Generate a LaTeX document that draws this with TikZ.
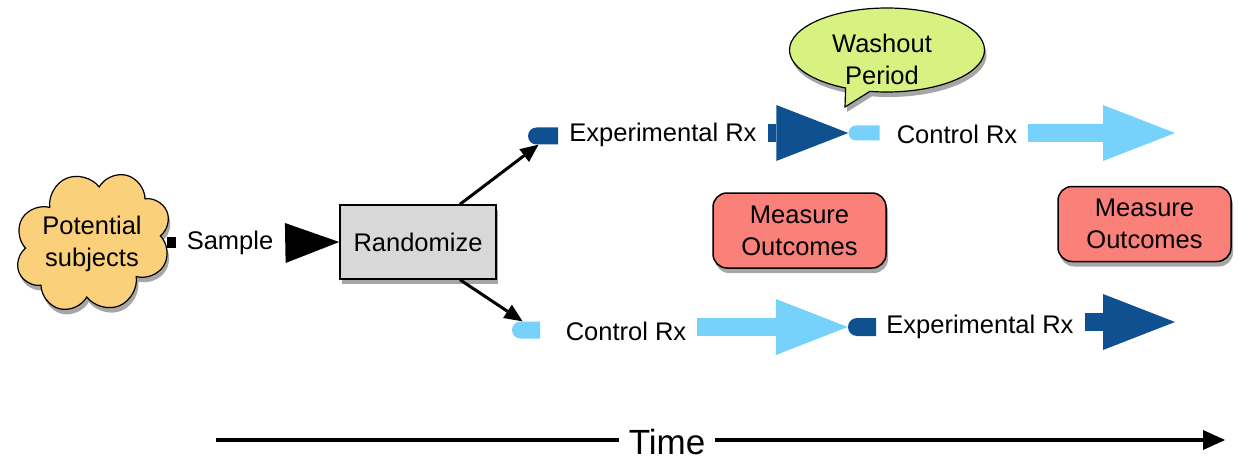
\documentclass[tikz,border=0pt]{standalone}
\usepackage{fontspec}
\setmainfont{Liberation Sans}
\usetikzlibrary{arrows.meta,shapes.symbols,shapes.callouts,shapes.misc,shadows,calc}

\definecolor{cloudfill}{RGB}{250,208,122}
\definecolor{boxgray}{RGB}{216,216,216}
\definecolor{measurefill}{RGB}{250,128,122}
\definecolor{bubblefill}{RGB}{216,242,130}
\definecolor{rxdark}{RGB}{15,80,145}
\definecolor{rxlight}{RGB}{118,210,250}

\tikzset{
  base/.style={font=\fontsize{25.5}{32}\selectfont, align=center},
  softshadow/.style={drop shadow={shadow xshift=2pt, shadow yshift=-5pt, opacity=0.35, fill=black}},
  cloudnode/.style={base, cloud, cloud puffs=8, cloud puff arc=150, cloud ignores aspect,
    minimum width=160pt, minimum height=138pt, draw=black, line width=1.2pt,
    fill=cloudfill, softshadow},
  randbox/.style={base, draw, line width=1.5pt, fill=boxgray,
    minimum width=156pt, minimum height=74pt, softshadow},
  measurebox/.style={base, draw, line width=1.5pt, fill=measurefill, rounded corners=14pt,
    minimum width=173pt, minimum height=75pt, softshadow},
  bubble/.style={ellipse callout, draw, line width=1.2pt, fill=bubblefill,
    minimum width=195pt, minimum height=84pt, softshadow},
  rxlabel/.style={base, inner xsep=11pt, inner ysep=2pt},
  tabshape/.style={rounded rectangle, rounded rectangle right arc=none, inner sep=0pt},
  tabdark/.style={tabshape, fill=rxdark, minimum width=30pt, minimum height=17pt},
  tablight/.style={tabshape, fill=rxlight, minimum width=31pt, minimum height=15pt},
  fatarrow/.style={line width=18pt,
    -{Triangle[length=72pt 0 0, width=56pt 0 0, line width=0pt 0 0]}},
  linkarrow/.style={line width=3pt,
    -{Triangle[length=18pt 0 0, width=16pt 0 0, line width=0pt 0 0]}},
}

\begin{document}
\begin{tikzpicture}[x=1pt, y=-1pt]
  \fill[white] (0,0) rectangle (1238,465);
  \useasboundingbox (0,0) rectangle (1238,465);

  % source population and sampling step
  \node[cloudnode, rotate=22.5] (pop) at (93,242) {};
  \node[base] (poptxt) at (92,244) {Potential\\subjects};
  \node[fill=black, minimum width=9pt, minimum height=11pt, inner sep=0pt] (stab) at (171,242) {};
  \node[rxlabel] (sample) at (230,243) {Sample};
  \node[randbox] (rand) at (418,242) {Randomize};
  \draw[line width=0.4pt, -{Triangle[length=54pt 0 0, width=40pt 0 0, line width=0pt 0 0]}]
    (sample.east) -- (rand.west);

  % washout callout
  \node[bubble, callout absolute pointer={(845,107)}] (wash) at (887,50) {};
  \node[base] (washtxt) at (882,59) {Washout\\Period};

  % upper arm: experimental first, then control
  \node[tabdark] (t1) at (543,136) {};
  \node[rxlabel] (lbl1) at (663,135) {Experimental Rx};
  \node[tablight] (t2) at (864,133) {};
  \node[rxlabel] (lbl2) at (957,134) {Control Rx};
  \coordinate (e1) at (1175,133);
  \draw[fatarrow, draw=rxdark] (lbl1.east |- t2.west) -- (t2.west);
  \draw[fatarrow, draw=rxlight] (lbl2.east |- e1) -- (e1);

  % lower arm: control first, then experimental
  \node[tablight, minimum width=28pt, minimum height=17pt] (t3) at (526,330) {};
  \node[rxlabel] (lbl3) at (626,331) {Control Rx};
  \node[tabdark, minimum width=28pt, minimum height=18pt] (t4) at (862,327) {};
  \node[rxlabel] (lbl4) at (980,327) {Experimental Rx};
  \coordinate (e2) at (1175,322);
  \draw[fatarrow, draw=rxlight] (lbl3.east |- t4.west) -- (t4.west);
  \draw[fatarrow, draw=rxdark] (lbl4.east |- e2) -- (e2);

  % allocation links
  \draw[linkarrow] ([xshift=42pt]rand.north) -- ([xshift=2pt]t1.south west);
  \draw[linkarrow] ([xshift=42pt]rand.south) -- ([xshift=2pt]t3.north west);

  % outcome measurements
  \node[measurebox] (m1) at (799.5,230.5) {Measure\\Outcomes};
  \node[measurebox] (m2) at (1144.5,224) {Measure\\Outcomes};

  % time axis
  \coordinate (tstart) at (216,440);
  \coordinate (tend) at (1225,440);
  \node[base, font=\fontsize{35}{40}\selectfont, inner xsep=10pt] (time) at (667,442) {Time};
  \draw[line width=3.5pt] (tstart) -- (time.west |- tstart);
  \draw[line width=3.5pt, -{Triangle[length=22pt 0 0, width=20pt 0 0, line width=0pt 0 0]}]
    (time.east |- tend) -- (tend);
\end{tikzpicture}
\end{document}
